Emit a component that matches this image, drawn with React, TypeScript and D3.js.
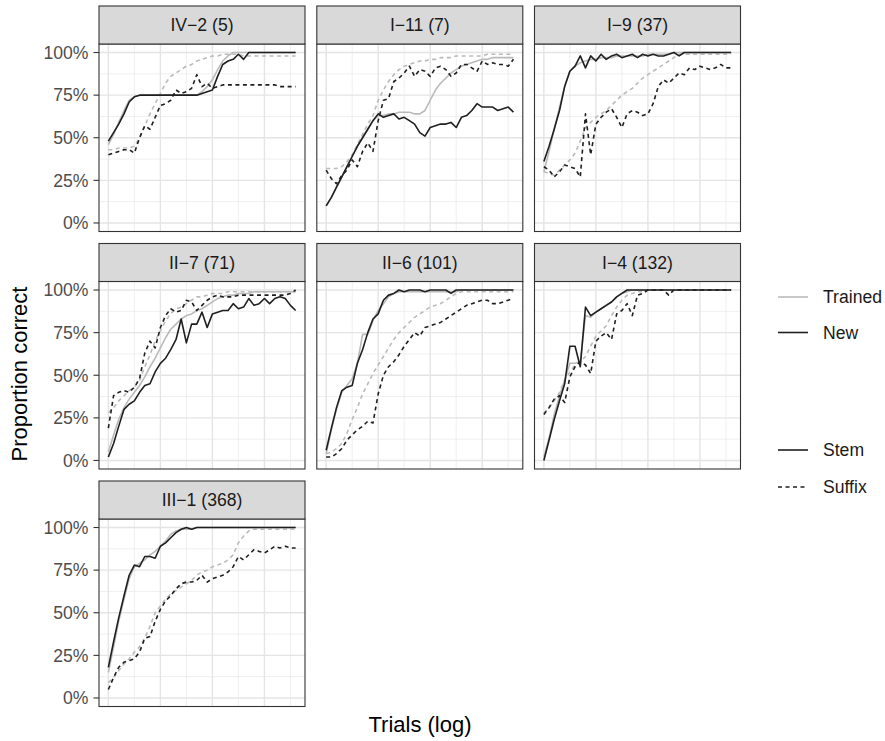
import React from "react";
import * as d3 from "d3";

// trial bins (log spaced), shared by every series
const trials = [1, 1.26, 1.58, 2, 2.51, 3.16, 3.98, 5.01, 6.31, 7.94, 10, 12.6, 15.8, 20, 25.1, 31.6, 39.8, 50.1, 63.1, 79.4, 100, 126, 158, 200, 251, 316, 398, 501, 631, 794, 1000, 1259, 1585, 1995, 2512, 3162, 3981];

const panelLabels = ["IV\u22122 (5)", "I\u221211 (7)", "I\u22129 (37)", "II\u22127 (71)", "II\u22126 (101)", "I\u22124 (132)", "III\u22121 (368)"];

const yTicks = [0, 0.25, 0.5, 0.75, 1];
const yTickLabels = ["0%", "25%", "50%", "75%", "100%"];
const yMinor = [0.125, 0.375, 0.625, 0.875];
const xMajor = [1, 10, 100, 1000];
const xMinor = [3.162, 31.62, 316.2, 3162];

// IV-2 (5)
const iv2TrainedStem = [.46, .52, .59, .66, .72, .74, .75, .75, .75, .75, .75, .75, .75, .75, .75, .75, .75, .75, .77, .80, .84, .90, .95, .98, 1, 1, 1, 1, 1, 1, 1, 1, 1, 1, 1, 1, 1];
const iv2NewStem = [.48, .53, .58, .64, .71, .74, .75, .75, .75, .75, .75, .75, .75, .75, .75, .75, .75, .75, .76, .77, .78, .86, .93, .95, .96, .99, .96, 1, 1, 1, 1, 1, 1, 1, 1, 1, 1];
const iv2TrainedSuffix = [.43, .43, .44, .44, .44, .45, .50, .57, .64, .70, .76, .82, .86, .88, .90, .92, .93, .95, .96, .97, .98, .98, .99, .99, .99, .99, .98, .98, .98, .98, .98, .98, .98, .98, .98, .98, .98];
const iv2NewSuffix = [.40, .41, .42, .43, .43, .41, .50, .57, .55, .62, .69, .70, .72, .78, .76, .77, .79, .87, .80, .82, .79, .80, .81, .81, .81, .81, .81, .81, .81, .81, .81, .81, .81, .80, .80, .80, .80];

// I-11 (7)
const i11TrainedStem = [.10, .15, .21, .27, .33, .39, .45, .50, .55, .60, .63, .63, .64, .64, .65, .65, .65, .64, .64, .66, .72, .78, .82, .85, .88, .90, .92, .93, .94, .95, .96, .96, .97, .97, .97, .97, .97];
const i11NewStem = [.10, .15, .21, .27, .33, .39, .45, .50, .55, .60, .64, .62, .63, .64, .61, .62, .60, .58, .53, .51, .56, .57, .58, .58, .59, .56, .62, .63, .66, .70, .68, .68, .68, .66, .67, .68, .65];
const i11TrainedSuffix = [.32, .32, .32, .33, .36, .40, .46, .52, .58, .63, .72, .78, .83, .87, .90, .92, .93, .94, .95, .95, .96, .96, .97, .97, .97, .98, .98, .98, .98, .98, .98, .99, .99, .99, .99, .99, .99];
const i11NewSuffix = [.31, .26, .23, .28, .31, .37, .33, .42, .47, .42, .60, .72, .73, .83, .85, .88, .92, .86, .90, .89, .86, .91, .92, .90, .86, .88, .93, .93, .91, .89, .95, .93, .94, .93, .93, .92, .96];

// I-9 (37)
const i9TrainedStem = [.30, .42, .55, .68, .80, .89, .92, .94, .95, .96, .96, .97, .97, .97, .98, .98, .98, .98, .98, .98, .99, .99, .99, .99, .99, 1, 1, 1, 1, 1, 1, 1, 1, 1, 1, 1, 1];
const i9NewStem = [.36, .45, .55, .66, .80, .89, .92, .98, .91, .98, .95, .99, .96, .98, .99, .97, .98, .99, .97, .99, .98, .99, .98, .98, .99, 1, .98, 1, 1, 1, 1, 1, 1, 1, 1, 1, 1];
const i9TrainedSuffix = [.30, .29, .28, .31, .34, .37, .41, .48, .56, .59, .62, .64, .66, .69, .72, .75, .77, .79, .82, .85, .87, .89, .91, .93, .95, .97, .99, .99, .99, .99, .99, .99, .99, .99, .99, .99, .99];
const i9NewSuffix = [.33, .31, .27, .30, .34, .33, .32, .27, .64, .40, .58, .62, .65, .67, .62, .56, .64, .66, .65, .63, .64, .70, .80, .84, .82, .85, .88, .87, .91, .90, .92, .91, .90, .91, .93, .91, .91];

// II-7 (71)
const ii7TrainedStem = [.05, .15, .24, .31, .36, .40, .44, .49, .55, .60, .66, .72, .77, .80, .83, .85, .86, .88, .89, .91, .93, .95, .96, .97, .97, .98, .98, .98, .99, .99, .99, .99, .99, .99, .99, .99, .99];
const ii7NewStem = [.02, .10, .20, .30, .33, .35, .40, .44, .45, .52, .57, .60, .65, .71, .83, .69, .80, .80, .87, .78, .86, .87, .88, .88, .92, .89, .90, .95, .91, .92, .95, .92, .95, .96, .95, .91, .88];
const ii7TrainedSuffix = [.28, .31, .35, .38, .41, .43, .47, .55, .62, .70, .76, .82, .86, .89, .90, .92, .94, .96, .96, .97, .98, .98, .98, .99, .99, .99, .99, .99, .99, .99, .99, .99, .99, .99, .99, .99, .99];
const ii7NewSuffix = [.19, .38, .40, .41, .40, .43, .48, .63, .70, .66, .78, .85, .89, .87, .88, .94, .93, .88, .91, .94, .96, .97, .96, .96, .96, .97, .97, .97, .97, .97, .97, .97, .97, .97, .97, .98, 1.0];

// II-6 (101)
const ii6TrainedStem = [.04, .18, .30, .40, .44, .48, .57, .74, .74, .82, .88, .92, .96, .98, .99, .99, .99, .99, .99, .99, .99, .99, .99, .99, .99, .99, 1, 1, 1, 1, 1, 1, 1, 1, 1, 1, 1];
const ii6NewStem = [.06, .19, .31, .41, .43, .44, .57, .65, .75, .83, .86, .94, .97, .98, 1, .99, 1, 1, 1, .99, 1, 1, 1, 1, .98, 1, 1, 1, 1, 1, 1, 1, 1, 1, 1, 1, 1];
const ii6TrainedSuffix = [.04, .05, .07, .10, .16, .24, .31, .39, .45, .51, .56, .61, .66, .71, .75, .78, .81, .84, .86, .88, .90, .91, .92, .94, .96, .98, .99, .99, .99, .99, .99, .99, .99, .99, .99, .99, .99];
const ii6NewSuffix = [.02, .02, .04, .07, .12, .15, .18, .20, .23, .22, .39, .50, .55, .58, .62, .67, .71, .75, .73, .78, .79, .80, .81, .83, .85, .87, .89, .91, .92, .93, .94, .94, .92, .92, .93, .94, .95];

// I-4 (132)
const i4TrainedStem = [.02, .13, .27, .38, .47, .57, .57, .58, .85, .84, .87, .89, .91, .93, .96, .98, .99, 1, 1, 1, 1, 1, 1, 1, 1, 1, 1, 1, 1, 1, 1, 1, 1, 1, 1, 1, 1];
const i4NewStem = [0, .12, .24, .35, .45, .67, .67, .55, .90, .85, .87, .89, .91, .93, .96, .98, 1, 1, 1, 1, 1, 1, 1, 1, 1, 1, 1, 1, 1, 1, 1, 1, 1, 1, 1, 1, 1];
const i4TrainedSuffix = [.28, .31, .35, .40, .47, .52, .56, .58, .61, .67, .73, .76, .79, .85, .90, .94, .97, .98, .99, .99, 1, 1, 1, 1, 1, 1, 1, 1, 1, 1, 1, 1, 1, 1, 1, 1, 1];
const i4NewSuffix = [.27, .31, .36, .38, .34, .49, .55, .58, .56, .51, .70, .73, .75, .71, .86, .88, .92, .85, .97, .98, 1, 1, 1, 1, .97, 1, 1, 1, 1, 1, 1, 1, 1, 1, 1, 1, 1];

// III-1 (368)
const iii1TrainedStem = [.15, .30, .45, .58, .70, .77, .79, .81, .84, .86, .89, .92, .96, .98, .99, .99, .99, 1, 1, 1, 1, 1, 1, 1, 1, 1, 1, 1, 1, 1, 1, 1, 1, 1, 1, 1, 1];
const iii1NewStem = [.18, .33, .47, .60, .72, .78, .77, .83, .83, .82, .89, .91, .94, .97, .99, 1, .99, 1, 1, 1, 1, 1, 1, 1, 1, 1, 1, 1, 1, 1, 1, 1, 1, 1, 1, 1, 1];
const iii1TrainedSuffix = [.09, .12, .16, .20, .23, .27, .30, .35, .42, .50, .54, .58, .61, .63, .65, .67, .69, .72, .74, .75, .77, .78, .79, .81, .84, .91, .95, .98, .99, .99, .99, .99, .99, .99, .99, .99, .99];
const iii1NewSuffix = [.05, .12, .18, .21, .22, .23, .27, .35, .36, .45, .52, .57, .60, .64, .67, .68, .68, .69, .72, .68, .70, .71, .72, .74, .77, .83, .81, .84, .87, .86, .85, .87, .89, .88, .89, .88, .88];

const panelSeries = [
  [iv2TrainedStem, iv2NewStem, iv2TrainedSuffix, iv2NewSuffix],
  [i11TrainedStem, i11NewStem, i11TrainedSuffix, i11NewSuffix],
  [i9TrainedStem, i9NewStem, i9TrainedSuffix, i9NewSuffix],
  [ii7TrainedStem, ii7NewStem, ii7TrainedSuffix, ii7NewSuffix],
  [ii6TrainedStem, ii6NewStem, ii6TrainedSuffix, ii6NewSuffix],
  [i4TrainedStem, i4NewStem, i4TrainedSuffix, i4NewSuffix],
  [iii1TrainedStem, iii1NewStem, iii1TrainedSuffix, iii1NewSuffix],
];

// series meta: [group, morph]
const seriesKeys = [["Trained", "Stem"], ["New", "Stem"], ["Trained", "Suffix"], ["New", "Suffix"]];
const groupColor: Record<string, string> = { Trained: "#bababa", New: "#1f1f1f" };
const morphDash: Record<string, string | undefined> = { Stem: undefined, Suffix: "4,3.5" };
// draw grey first so black sits on top
const drawOrder = [2, 0, 3, 1];

const FONT = "'Liberation Sans', Arial, Helvetica, sans-serif";

const colX = [99, 316.8, 534.5];
const rowY = [6, 243.5, 481];
const panelW = 206;
const stripH = 38;
const plotH = 187.5;

function Panel(props: { index: number }) {
  const { index } = props;
  const col = index % 3;
  const row = Math.floor(index / 3);
  const left = colX[col];
  const top = rowY[row] + stripH;
  const xPad = panelW / 1.1 * 0.05;
  const yPad = plotH / 1.1 * 0.05;

  const x = d3.scaleLog().domain([trials[0], trials[trials.length - 1]]).range([left + xPad, left + panelW - xPad]);
  const y = d3.scaleLinear().domain([0, 1]).range([top + plotH - yPad, top + yPad]);

  const line = d3.line<number>()
    .x((d, i) => x(trials[i]))
    .y((d) => y(d));

  const series = panelSeries[index];

  return (
    <g>
      <rect x={left} y={top} width={panelW} height={plotH} fill="#ffffff" />
      {yMinor.map((v, i) => (
        <line key={"ym" + i} x1={left} x2={left + panelW} y1={y(v)} y2={y(v)} stroke="#ebebeb" strokeWidth={0.8} />
      ))}
      {xMinor.map((v, i) => (
        <line key={"xm" + i} x1={x(v)} x2={x(v)} y1={top} y2={top + plotH} stroke="#ebebeb" strokeWidth={0.8} />
      ))}
      {yTicks.map((v, i) => (
        <line key={"yM" + i} x1={left} x2={left + panelW} y1={y(v)} y2={y(v)} stroke="#e4e4e4" strokeWidth={1.4} />
      ))}
      {xMajor.map((v, i) => (
        <line key={"xM" + i} x1={x(v)} x2={x(v)} y1={top} y2={top + plotH} stroke="#e4e4e4" strokeWidth={1.4} />
      ))}
      {drawOrder.map((k) => {
        const [group, morph] = seriesKeys[k];
        return (
          <path key={"s" + k} d={line(series[k]) || ""} fill="none" stroke={groupColor[group]}
            strokeWidth={1.6} strokeDasharray={morphDash[morph]} strokeLinejoin="round" />
        );
      })}
      <rect x={left} y={top} width={panelW} height={plotH} fill="none" stroke="#333333" strokeWidth={1.1} />
      <rect x={left} y={rowY[row]} width={panelW} height={stripH} fill="#d9d9d9" stroke="#333333" strokeWidth={1.1} />
      <text x={left + panelW / 2} y={rowY[row] + stripH / 2} dy="0.36em" textAnchor="middle"
        fontFamily={FONT} fontSize={17.6} fill="#1a1a1a">{panelLabels[index]}</text>
      {col === 0 && yTicks.map((v, i) => (
        <g key={"yt" + i}>
          <line x1={left - 5.5} x2={left} y1={y(v)} y2={y(v)} stroke="#333333" strokeWidth={1.1} />
          <text x={left - 10.5} y={y(v)} dy="0.36em" textAnchor="end" fontFamily={FONT} fontSize={17.6} fill="#4d4d4d">
            {yTickLabels[i]}
          </text>
        </g>
      ))}
    </g>
  );
}

const legendGroups = ["Trained", "New"];
const legendMorphs = ["Stem", "Suffix"];

export default function App() {
  return (
    <svg width={885} height={741} style={{ display: "block", position: "absolute", left: 0, top: 0 }}>
      <rect width={885} height={741} fill="#ffffff" />
      {panelLabels.map((_, i) => <Panel key={i} index={i} />)}

      <text transform="translate(27,374) rotate(-90)" textAnchor="middle" fontFamily={FONT} fontSize={22} fill="#000">
        Proportion correct
      </text>
      <text x={420} y={732} textAnchor="middle" fontFamily={FONT} fontSize={22} fill="#000">Trials (log)</text>

      {legendGroups.map((g, i) => {
        const ly = 297 + i * 35.5;
        return (
          <g key={g}>
            <line x1={778} x2={808} y1={ly} y2={ly} stroke={groupColor[g]} strokeWidth={1.6} />
            <text x={823} y={ly} dy="0.36em" fontFamily={FONT} fontSize={17.6} fill="#1a1a1a">{g}</text>
          </g>
        );
      })}
      {legendMorphs.map((m, i) => {
        const ly = 450 + i * 37;
        return (
          <g key={m}>
            <line x1={778} x2={808} y1={ly} y2={ly} stroke="#1f1f1f" strokeWidth={1.6} strokeDasharray={morphDash[m]} />
            <text x={823} y={ly} dy="0.36em" fontFamily={FONT} fontSize={17.6} fill="#1a1a1a">{m}</text>
          </g>
        );
      })}
    </svg>
  );
}
